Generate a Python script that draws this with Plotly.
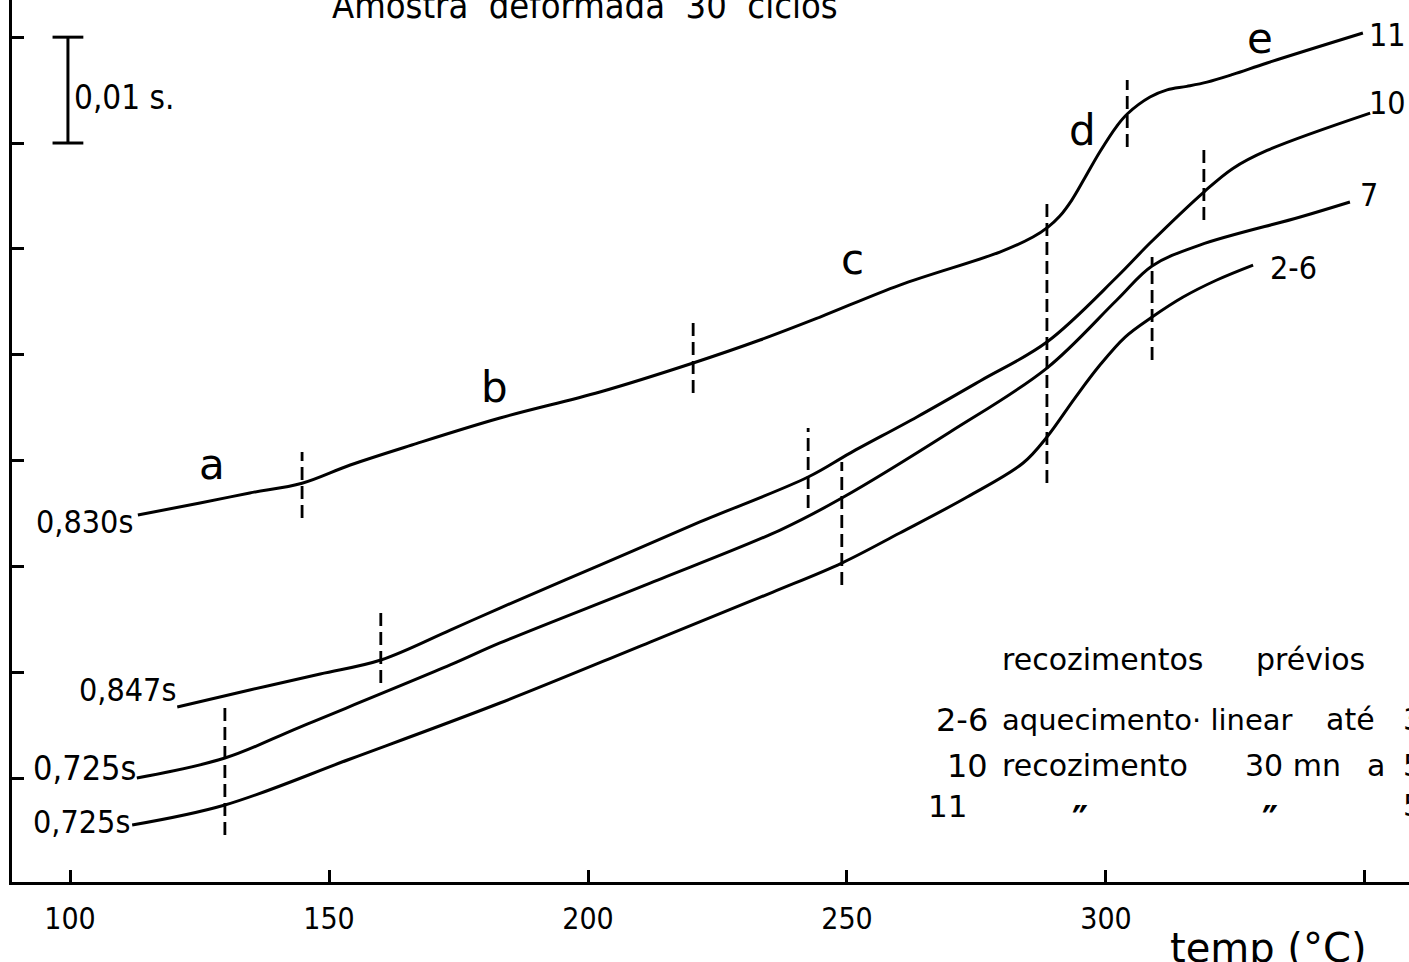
import plotly.graph_objects as go

FONT = "DejaVu Sans, sans-serif"
FONT_C = "DejaVu Sans Condensed, DejaVu Sans, sans-serif"

# Temperature (°C) and relative oscillation period (units of 0.01 s)
t11 = [113.1, 125.1, 134.7, 144.8, 154.1, 166.0, 183.0, 202.3, 220.3, 233.2, 244.8, 260.2,
       279.5, 285.9, 288.8, 291.1, 293.4, 295.9, 298.8, 302.1, 304.1, 308.5, 311.8, 315.6,
       319.5, 324.5, 331.1, 349.6]
p11 = [3.486, 3.599, 3.694, 3.786, 3.958, 4.147, 4.402, 4.648, 4.922, 5.139, 5.356, 5.658,
       5.970, 6.112, 6.206, 6.310, 6.461, 6.669, 6.915, 7.160, 7.274, 7.434, 7.502, 7.535,
       7.575, 7.648, 7.756, 8.039]

t10 = [120.7, 134.7, 148.3, 160.0, 173.4, 183.0, 202.3, 221.6, 242.5, 250.6, 263.5, 275.7,
       288.6, 302.1, 308.5, 318.9, 324.5, 331.1, 351.0]
p10 = [1.672, 1.833, 1.984, 2.116, 2.399, 2.607, 3.013, 3.420, 3.845, 4.071, 4.412, 4.752,
       5.120, 5.734, 6.055, 6.537, 6.760, 6.930, 7.283]

t7 = [112.9, 129.9, 144.4, 173.4, 183.0, 212.0, 237.1, 249.0, 269.9, 288.6, 302.1, 308.9,
      318.1, 337.5, 347.1]
p7 = [1.001, 1.190, 1.483, 2.069, 2.277, 2.843, 3.344, 3.646, 4.270, 4.874, 5.517, 5.838,
      6.036, 6.301, 6.443]

t26 = [112.0, 129.9, 154.1, 183.0, 212.0, 235.7, 249.0, 260.2, 273.2, 284.0, 288.6, 294.0,
       298.8, 303.7, 308.9, 314.9, 321.4, 328.4]
p26 = [0.557, 0.746, 1.181, 1.710, 2.286, 2.758, 3.032, 3.316, 3.656, 3.977, 4.223, 4.591,
       4.900, 5.167, 5.356, 5.545, 5.706, 5.847]

# vertical dashed stage markers
dash_t = [129.9, 144.8, 160.0, 220.3, 242.5, 249.0, 288.6, 304.1, 308.9, 318.9]
dash_lo = [0.463, 3.457, 1.899, 4.638, 3.552, 2.824, 3.788, 6.962, 4.950, 6.272]
dash_hi = [1.691, 4.081, 2.617, 5.309, 4.308, 3.986, 6.461, 7.595, 5.923, 6.934]

# scale bar (0,01 s)
bar_t = [99.6, 99.6]
bar_p = [7.0, 8.0]

x_ticks = [100, 150, 200, 250, 300, 350]
x_ticktext = ["100", "150", "200", "250", "300", ""]
y_ticks = [1, 2, 3, 4, 5, 6, 7, 8]

fig = go.Figure()

for t, p in [(t11, p11), (t10, p10), (t7, p7), (t26, p26)]:
    fig.add_trace(go.Scatter(x=t, y=p, mode="lines",
                             line=dict(color="black", width=3, shape="spline", smoothing=1.0),
                             hoverinfo="skip", showlegend=False))

for t, lo, hi in zip(dash_t, dash_lo, dash_hi):
    fig.add_trace(go.Scatter(x=[t, t], y=[lo, hi], mode="lines",
                             line=dict(color="black", width=2.8, dash="13px,6px"),
                             hoverinfo="skip", showlegend=False))

fig.add_trace(go.Scatter(x=bar_t, y=bar_p, mode="lines+markers",
                         line=dict(color="black", width=3),
                         marker=dict(symbol="line-ew", size=22, color="black",
                                     line=dict(color="black", width=3)),
                         hoverinfo="skip", showlegend=False))

ann = []
def txt(x, y, s, size=30, xanchor="center", yanchor="middle", xref="x", yref="y",
        weight="normal", family=FONT_C):
    ann.append(dict(x=x, y=y, text=s, showarrow=False, xref=xref, yref=yref,
                    xanchor=xanchor, yanchor=yanchor,
                    font=dict(family=family, size=size, color="black", weight=weight)))

txt(199.5, 8.30, "Amostra  deformada  30  ciclos", size=36)
txt(100.4, 7.43, "0,01 s.", size=33, xanchor="left")
txt(112.5, 3.42, "0,830s", size=32, xanchor="right")
txt(120.8, 1.83, "0,847s", size=32, xanchor="right")
txt(113.2, 1.10, "0,725s", size=34, xanchor="right")
txt(112.0, 0.59, "0,725s", size=32, xanchor="right")
for x, y, s in [(127.4, 3.96, "a"), (182.0, 4.69, "b"), (251.0, 5.90, "c"),
                (295.4, 7.12, "d"), (329.7, 7.99, "e")]:
    txt(x, y, s, size=42, family=FONT)
txt(350.4, 8.02, "11", size=32, xanchor="left")
txt(350.4, 7.38, "10", size=32, xanchor="left")
txt(348.6, 6.51, "7", size=32, xanchor="left")
txt(331.3, 5.82, "2-6", size=32, xanchor="left")

txt(279.5, 2.12, "recozimentos", size=30, xanchor="left", family=FONT)
txt(328.5, 2.12, "prévios", size=30, xanchor="left", family=FONT)
txt(277.6, 1.55, "2-6", size=32, xanchor="right", family=FONT)
txt(279.5, 1.55, "aquecimento· linear", size=29, xanchor="left", family=FONT)
txt(342.0, 1.55, "até", size=30, xanchor="left", family=FONT)
txt(357.0, 1.55, "3", size=30, xanchor="left", family=FONT)
txt(277.6, 1.115, "10", size=32, xanchor="right", family=FONT)
txt(279.5, 1.115, "recozimento", size=30, xanchor="left", family=FONT)
txt(326.4, 1.115, "30 mn", size=30, xanchor="left", family=FONT)
txt(350.0, 1.115, "a", size=30, xanchor="left", family=FONT)
txt(357.0, 1.115, "5", size=30, xanchor="left", family=FONT)
txt(273.6, 0.74, "11", size=31, xanchor="right", family=FONT)
txt(295.0, 0.60, "″", size=40, weight="bold")
txt(331.7, 0.60, "″", size=40, weight="bold")
txt(357.0, 0.74, "5", size=30, xanchor="left", family=FONT)

txt(331.3, -0.075, "temp (°C)", size=40, yref="paper", family=FONT)

fig.update_layout(
    width=1409, height=962,
    margin=dict(l=12, r=0, t=0, b=80),
    paper_bgcolor="white", plot_bgcolor="white",
    annotations=ann,
    xaxis=dict(range=[88.8, 358.5], showgrid=False, zeroline=False,
               showline=True, linecolor="black", linewidth=3,
               ticks="inside", ticklen=12, tickwidth=2.5, tickcolor="black",
               tickvals=x_ticks, ticktext=x_ticktext, ticklabelstandoff=8,
               tickfont=dict(family=FONT_C, size=30, color="black")),
    yaxis=dict(range=[0.019, 8.351], showgrid=False, zeroline=False,
               showline=True, linecolor="black", linewidth=3,
               ticks="inside", ticklen=12, tickwidth=2.5, tickcolor="black",
               tickvals=y_ticks, showticklabels=False),
)

fig.write_html("out.html")
